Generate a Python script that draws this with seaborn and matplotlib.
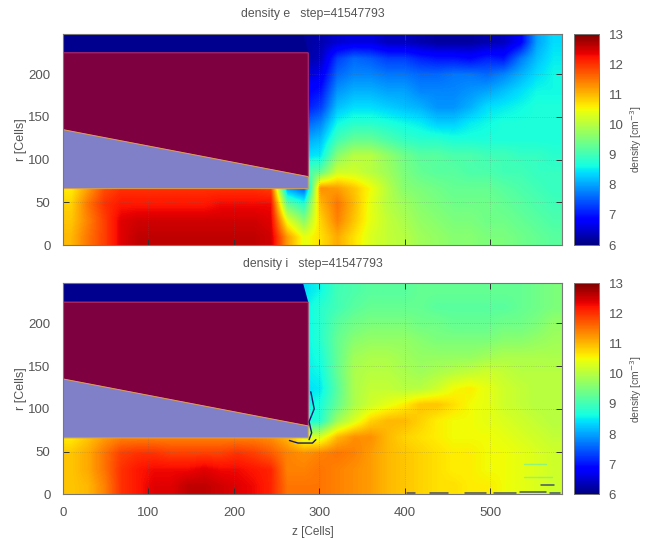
import numpy as np
import pandas as pd
import matplotlib
matplotlib.use("Agg")
import matplotlib.pyplot as plt
import seaborn as sns

# ==================================
# DATA
# ==================================
r_rows = [237, 218, 199, 180, 161, 142, 123, 104, 85, 66, 47, 28, 9]
z_cols = [10, 29, 49, 68, 88, 107, 127, 146, 166, 185, 205, 224, 244, 263, 283,
          302, 322, 341, 360, 380, 399, 419, 438, 458, 477, 497, 516, 536, 555, 575]

density_e = [
    [6.0]*14 + [6.2, 6.3, 6.5, 6.6, 6.6, 6.4, 6.4, 6.3, 6.2, 6.2, 6.2, 6.3, 6.4, 6.8, 8.0, 8.4],
    [6.1]*14 + [6.2, 6.4, 7.3, 7.6, 7.5, 7.3, 7.3, 7.1, 7.0, 7.0, 6.9, 7.1, 7.0, 7.7, 8.2, 8.5],
    [6.5]*14 + [6.5, 6.7, 7.6, 7.8, 7.8, 7.7, 7.7, 7.6, 7.6, 7.7, 7.7, 7.6, 7.8, 8.1, 8.4, 8.6],
    [6.8]*14 + [6.8, 7.0, 7.9, 8.1, 8.1, 8.0, 8.0, 7.8, 7.8, 7.8, 7.9, 8.0, 8.2, 8.4, 8.6, 8.6],
    [7.0]*14 + [7.0, 7.3, 8.2, 8.4, 8.4, 8.3, 8.2, 8.1, 7.9, 7.9, 8.1, 8.4, 8.5, 8.6, 8.7, 8.7],
    [7.5]*14 + [7.5, 7.8, 8.6, 8.8, 8.8, 8.7, 8.6, 8.5, 8.3, 8.3, 8.5, 8.6, 8.7, 8.7, 8.7, 8.7],
    [8.0]*14 + [8.0, 8.2, 9.0, 9.3, 9.3, 9.1, 8.9, 8.8, 8.8, 8.7, 8.7, 8.7, 8.7, 8.7, 8.7, 8.7],
    [8.4]*14 + [8.4, 8.5, 9.6, 10.0, 10.0, 9.7, 9.4, 9.2, 9.2, 9.1, 9.1, 9.0, 9.0, 8.9, 8.9, 8.8],
    [9.0]*14 + [9.0, 9.3, 10.2, 10.2, 10.0, 9.8, 9.5, 9.3, 9.2, 9.2, 9.1, 9.1, 9.0, 9.0, 8.9, 8.9],
    [10.6, 11.2, 11.8, 12.0, 12.0, 12.0, 12.0, 12.0, 12.0, 12.0, 12.0, 12.0, 11.9, 8.0, 7.5,
     11.3, 11.2, 10.9, 10.5, 10.0, 9.6, 9.5, 9.4, 9.3, 9.3, 9.3, 9.2, 9.1, 9.0, 8.9],
    [10.8, 11.5, 12.0, 12.2, 12.2, 12.2, 12.2, 12.2, 12.2, 12.3, 12.3, 12.3, 12.3, 9.3, 8.8,
     11.0, 11.5, 11.0, 10.4, 10.0, 9.8, 9.6, 9.5, 9.4, 9.4, 9.4, 9.3, 9.2, 9.1, 9.0],
    [10.9, 11.4, 11.9, 12.4, 12.5, 12.5, 12.5, 12.5, 12.5, 12.5, 12.5, 12.5, 12.4, 10.4, 9.6,
     10.8, 11.4, 10.9, 10.4, 10.1, 9.9, 9.7, 9.6, 9.5, 9.5, 9.4, 9.4, 9.3, 9.2, 9.1],
    [11.0, 11.5, 11.9, 12.4, 12.6, 12.6, 12.6, 12.6, 12.6, 12.6, 12.6, 12.6, 12.5, 11.2, 10.4,
     10.7, 11.1, 10.7, 10.3, 10.1, 10.0, 9.8, 9.7, 9.6, 9.6, 9.5, 9.5, 9.4, 9.3, 9.2],
]

density_i = [
    [8.4]*15 + [8.6, 9.0, 9.1, 9.2, 9.2, 9.2, 9.3, 9.3, 9.3, 9.3, 9.3, 9.3, 9.3, 9.4, 9.5],
    [8.5]*15 + [8.8, 9.0, 9.2, 9.3, 9.3, 9.3, 9.3, 9.2, 9.2, 9.2, 9.2, 9.2, 9.3, 9.4, 9.5],
    [8.5]*15 + [8.8, 9.2, 9.4, 9.5, 9.5, 9.5, 9.4, 9.4, 9.3, 9.3, 9.3, 9.4, 9.4, 9.5, 9.7],
    [8.5]*15 + [8.8, 9.3, 9.6, 9.7, 9.7, 9.7, 9.6, 9.5, 9.5, 9.5, 9.5, 9.6, 9.6, 9.7, 9.8],
    [8.5]*15 + [8.7, 9.3, 9.8, 9.9, 9.9, 9.8, 9.7, 9.7, 9.7, 9.7, 9.8, 9.9, 9.9, 9.9, 9.9],
    [8.5]*15 + [8.6, 9.3, 9.9, 10.0, 10.0, 9.9, 9.8, 9.9, 10.0, 10.1, 10.2, 10.1, 10.0, 10.0, 10.0],
    [8.4]*15 + [8.5, 9.2, 9.9, 10.1, 10.1, 10.0, 10.0, 10.2, 10.5, 10.6, 10.4, 10.2, 10.1, 10.0, 10.0],
    [8.5]*15 + [8.7, 9.3, 9.9, 10.2, 10.4, 10.6, 10.9, 10.9, 10.7, 10.5, 10.4, 10.2, 10.1, 10.0, 10.0],
    [8.6]*15 + [8.8, 9.8, 10.3, 10.8, 11.0, 11.0, 10.8, 10.6, 10.5, 10.5, 10.4, 10.3, 10.2, 10.1, 10.0],
    [10.6, 10.9, 11.2, 11.4, 11.4, 11.4, 11.4, 11.4, 11.4, 11.4, 11.4, 11.4, 11.3, 11.0, 10.3,
     10.3, 11.0, 11.3, 11.3, 11.0, 10.8, 10.7, 10.6, 10.5, 10.5, 10.5, 10.4, 10.3, 10.2, 10.1],
    [10.9, 11.1, 11.5, 11.9, 12.0, 12.0, 11.9, 11.9, 11.9, 11.9, 12.0, 11.9, 11.7, 11.4, 11.3,
     11.4, 11.5, 11.4, 11.2, 11.0, 10.9, 10.8, 10.7, 10.6, 10.6, 10.5, 10.5, 10.4, 10.3, 10.2],
    [10.9, 11.1, 11.5, 12.0, 12.2, 12.3, 12.3, 12.3, 12.4, 12.3, 12.3, 12.2, 12.1, 11.4, 11.4,
     11.5, 11.4, 11.3, 11.2, 11.0, 10.9, 10.8, 10.7, 10.6, 10.6, 10.5, 10.5, 10.4, 10.3, 10.2],
    [10.9, 11.0, 11.4, 12.0, 12.2, 12.4, 12.4, 12.6, 12.6, 12.5, 12.4, 12.3, 12.1, 11.5, 11.5,
     11.5, 11.4, 11.3, 11.2, 11.0, 10.9, 10.8, 10.7, 10.7, 10.6, 10.6, 10.5, 10.4, 10.3, 10.2],
]

step = 41547793
z_ticks = [0, 100, 200, 300, 400, 500]
r_ticks = [0, 50, 100, 150, 200]
cbar_ticks = [6, 7, 8, 9, 10, 11, 12, 13]
cbar_minor = [7.33, 7.67, 8.33, 8.67, 9.33, 9.67, 10.33, 10.67, 11.33, 11.67, 12.33]

# nozzle outline in cell units
solid_z = [0, 287, 287, 0]
solid_r = [225, 225, 80, 135]
wedge_z = [0, 287, 287, 0]
wedge_r = [135, 80, 66, 66]
gap_z = [0, 287, 281, 0]
gap_r = [225, 225, 247, 247]

# thin streaks of the ion panel
bottom_z = [[403, 412], [430, 450], [470, 495], [505, 530], [535, 565], [570, 582], [560, 575]]
bottom_r = [[2, 2], [2, 2], [2, 2], [2, 2], [3, 3], [2, 2], [11, 11]]
pale_z = [[540, 565], [540, 572]]
pale_r = [[35, 35], [20, 20]]
edge_z = [290, 294, 288, 291, 288]
edge_r = [120, 100, 85, 72, 64]
notch_z = [265, 275, 292, 296]
notch_r = [63, 60, 60, 64]

# ==================================
# SETUP
# ==================================
sns.set_theme(style="white")
plt.rcParams["font.family"] = ["Liberation Sans", "DejaVu Sans"]
text_color = "#555555"
z_max = 584
r_max = 247
dz = z_max / len(z_cols)
dr = r_max / len(r_rows)
W, H = 651, 538


def to_x(z):
    return np.asarray(z) / dz


def to_y(r):
    return len(r_rows) - np.asarray(r) / dr


def box(x0, y0, x1, y1):
    return [x0 / W, 1 - y1 / H, (x1 - x0) / W, (y1 - y0) / H]


fig = plt.figure(figsize=(W / 100, H / 100), dpi=100)


def draw_panel(values, title, top, show_x):
    ax = fig.add_axes(box(63, top, 562, top + 211))
    cax = fig.add_axes(box(574, top, 599, top + 211))
    frame = pd.DataFrame(values, index=r_rows, columns=z_cols)
    sns.heatmap(frame, ax=ax, cbar_ax=cax, cmap="jet", vmin=6, vmax=13,
                xticklabels=False, yticklabels=False)
    # same values again, only drawn smooth
    ax.imshow(frame.values, cmap="jet", vmin=6, vmax=13, aspect="auto",
              interpolation="bilinear", extent=(0, len(z_cols), len(r_rows), 0), zorder=2)
    ax.set_xlim(0, len(z_cols))
    ax.set_ylim(len(r_rows), 0)

    ax.fill(to_x(gap_z), to_y(gap_r), color="#00008f", lw=0, zorder=3)
    ax.fill(to_x(solid_z), to_y(solid_r), facecolor="#7f0040", edgecolor="#d0305f", lw=0.7, zorder=4)
    ax.fill(to_x(wedge_z), to_y(wedge_r), facecolor="#8080c8", edgecolor="#d9a050", lw=0.7, zorder=4)

    ax.set_xticks(to_x(z_ticks))
    ax.set_yticks(to_y(r_ticks))
    ax.set_yticklabels(r_ticks, fontsize=9.5, color=text_color)
    if show_x:
        ax.set_xticklabels(z_ticks, fontsize=9.5, color=text_color)
        ax.set_xlabel("z [Cells]", fontsize=8.5, color=text_color, labelpad=5)
    else:
        ax.set_xticklabels([])
    ax.set_ylabel("r [Cells]", fontsize=9, color=text_color, labelpad=1)
    ax.set_title(title, fontsize=8.8, color=text_color, pad=12)
    ax.tick_params(direction="in", length=4, width=0.7, color="#333333", top=True, right=True,
                   bottom=True, left=True, pad=9)
    ax.grid(True, ls=":", lw=0.5, color="#666666", alpha=0.4)
    ax.set_axisbelow(False)
    for s in ax.spines.values():
        s.set_visible(True)
        s.set_color("#777777")
        s.set_linewidth(0.8)
        s.set_zorder(6)

    cax.set_yticks(cbar_ticks)
    cax.set_yticks(cbar_minor, minor=True)
    cax.set_yticklabels(cbar_ticks, fontsize=9.5, color=text_color)
    cax.tick_params(axis="y", which="major", direction="in", length=4, width=0.7, color="#222222",
                    left=True, right=True, pad=7)
    cax.tick_params(axis="y", which="minor", direction="in", length=2.5, width=0.5, color="#333333",
                    left=True, right=True)
    cax.set_ylabel("density [cm$^{-3}$]", fontsize=7.5, color=text_color, labelpad=3)
    for s in cax.spines.values():
        s.set_visible(True)
        s.set_color("#777777")
        s.set_linewidth(0.6)
    return ax


# ==================================
# PANELS
# ==================================
draw_panel(density_e, f"density e   step={step}", 34, False)
ax_i = draw_panel(density_i, f"density i   step={step}", 283.3, True)
for zs, rs in zip(bottom_z, bottom_r):
    ax_i.plot(to_x(zs), to_y(rs), color="#202a80", lw=1.1, alpha=0.8, zorder=5)
for zs, rs in zip(pale_z, pale_r):
    ax_i.plot(to_x(zs), to_y(rs), color="#70f0a0", lw=1.0, alpha=0.7, zorder=5)
ax_i.plot(to_x(edge_z), to_y(edge_r), color="#101a70", lw=1.0, zorder=5)
ax_i.plot(to_x(notch_z), to_y(notch_r), color="#101a70", lw=1.0, zorder=5)

fig.savefig("out.png", dpi=100)
